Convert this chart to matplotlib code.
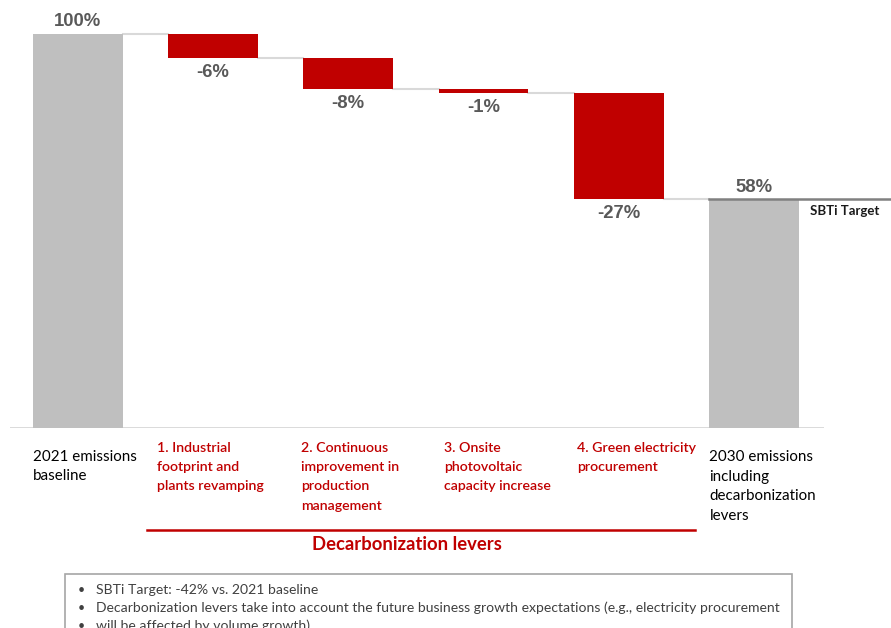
import numpy as np
import matplotlib.pyplot as plt
import matplotlib.transforms as mtransforms
from matplotlib.patches import Rectangle

# data
categories = ["2021 emissions\nbaseline",
              "1. Industrial\nfootprint and\nplants revamping",
              "2. Continuous\nimprovement in\nproduction\nmanagement",
              "3. Onsite\nphotovoltaic\ncapacity increase",
              "4. Green electricity\nprocurement",
              "2030 emissions\nincluding\ndecarbonization\nlevers"]
baseline = 100
changes = [-6, -8, -1, -27]
sbti_target = 58
notes = ["SBTi Target: -42% vs. 2021 baseline",
         "Decarbonization levers take into account the future business growth expectations (e.g., electricity procurement",
         "will be affected by volume growth)"]

RED = '#C00000'
GREY = '#BFBFBF'
VAL = '#595959'

W, H = 891, 628
fig = plt.figure(figsize=(W / 100, H / 100), dpi=100)
ax = fig.add_axes([10 / W, (H - 428) / H, 814 / W, 428 / H])
ax.set_xlim(-0.5, 5.517)
ax.set_ylim(0, 100 * 428 / 394)
ax.axis('off')


def fy(px):
    return 1 - px / H


xfig = mtransforms.blended_transform_factory(ax.transData, fig.transFigure)

# waterfall values
final = baseline + sum(changes)
levels = [baseline] + list(baseline + np.cumsum(changes)) + [final]
bw = 0.665
x = np.arange(len(categories))

# totals
ax.bar([0, 5], [baseline, final], width=bw, color=GREY, zorder=2)
# steps
bottoms = levels[1:-1]
ax.bar(x[1:5], np.array(changes) * -1, bottom=bottoms, width=bw, color=RED, zorder=2)

# connectors
for i in range(5):
    ax.plot([i + bw / 2, i + 1 - bw / 2], [levels[i], levels[i]], color='#D9D9D9', lw=1.5, zorder=1)

# SBTi target line
ax.plot([5 - bw / 2, 6.02], [sbti_target, sbti_target], color='#808080', lw=1.8, zorder=3, clip_on=False)
ax.annotate('SBTi Target', (6.0, sbti_target), xytext=(-10, -6), textcoords='offset pixels',
            ha='right', va='top', fontsize=9.5, fontweight='bold', family='Lato', color='#1a1a1a',
            annotation_clip=False)

# axis baseline
ax.axhline(0, color='#D0D0D0', lw=1.8, zorder=1)

# value labels
ax.annotate('100%', (0, baseline), xytext=(0, 4), textcoords='offset pixels', ha='center', va='bottom',
            fontsize=13.3, fontweight='bold', color=VAL, family='Liberation Sans')
ax.annotate('%d%%' % final, (5, final), xytext=(0, 3), textcoords='offset pixels', ha='center', va='bottom',
            fontsize=13.3, fontweight='bold', color=VAL, family='Liberation Sans')
for i, c in enumerate(changes):
    ax.annotate('%d%%' % c, (i + 1, bottoms[i]), xytext=(0, -6), textcoords='offset pixels',
                ha='center', va='top', fontsize=13.3, fontweight='bold', color=VAL, family='Liberation Sans')

# category labels
label_dx = [-0.33, -0.41, -0.35, -0.29, -0.31, -0.33]
for i, lab in enumerate(categories):
    red = 0 < i < 5
    ax.text(i + label_dx[i], fy(442 if red else 450), lab, transform=xfig, ha='left', va='top',
            fontsize=10.2 if red else 10.9, family='Lato', color=RED if red else 'black',
            fontweight='semibold' if red else 'normal', linespacing=1.72 if red else 1.5)

# bracket for levers
ax.plot([0.515, 4.56], [fy(530), fy(530)], transform=xfig, color=RED, lw=1.8, clip_on=False)
ax.text(2.435, fy(545), 'Decarbonization levers', transform=xfig, ha='center', va='center',
        fontsize=13.3, fontweight='bold', family='Lato', color=RED)

# notes box
fig.patches.append(Rectangle((65 / W, -0.05), (792 - 65) / W, fy(574) + 0.05, transform=fig.transFigure,
                             fill=False, edgecolor='#A6A6A6', lw=1.2))
for j, note in enumerate(notes):
    yy = fy(590 + 18 * j)
    fig.text(78 / W, yy, '\u2022', ha='left', va='center', fontsize=9, color='#404040', family='Lato')
    fig.text(96 / W, yy, note, ha='left', va='center', fontsize=10.1, color='#404040', family='Lato')

fig.savefig('out.png', dpi=100)
